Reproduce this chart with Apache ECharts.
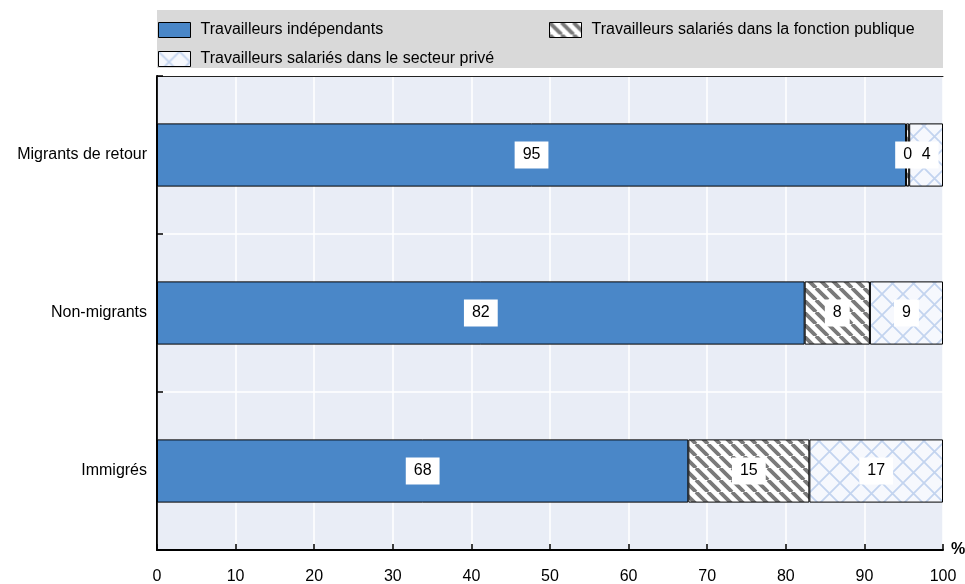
<!DOCTYPE html>
<html>
<head>
<meta charset="utf-8">
<script src="https://cdn.jsdelivr.net/npm/echarts@6/dist/echarts.min.js"></script>
<style>
  html, body { margin: 0; padding: 0; background: #fff; }
  #chart { width: 965px; height: 584px; }
</style>
</head>
<body>
<div id="chart"></div>
<script>
// Groups shown on the vertical axis (top to bottom)
const categories = ['Migrants de retour', 'Non-migrants', 'Immigrés'];

// Shares of employment by status, in %
const independants = [95.3, 82.4, 67.6];
const fonctionPublique = [0.4, 8.3, 15.4];
const secteurPrive = [4.3, 9.3, 17.0];

const seriesNames = [
  'Travailleurs indépendants',
  'Travailleurs salariés dans la fonction publique',
  'Travailleurs salariés dans le secteur privé'
];

const xTicks = { min: 0, max: 100, step: 10 };

const FONT = '"Liberation Sans", Arial, Helvetica, sans-serif';

// Dark diagonal hatching for the public sector
function stripePattern() {
  const s = 12;
  const c = document.createElement('canvas');
  c.width = s; c.height = s;
  const ctx = c.getContext('2d');
  ctx.fillStyle = '#ffffff';
  ctx.fillRect(0, 0, s, s);
  ctx.strokeStyle = '#7a7a7a';
  ctx.lineWidth = 3.8;
  ctx.beginPath();
  for (const i of [-1, 0, 1]) {
    ctx.moveTo(i * s, 0);
    ctx.lineTo(i * s + s, s);
  }
  ctx.stroke();
  return c;
}

// Light blue cross-hatching for the private sector
function crossPattern() {
  const s = 21;
  const c = document.createElement('canvas');
  c.width = s; c.height = s;
  const ctx = c.getContext('2d');
  ctx.fillStyle = '#f6f8fd';
  ctx.fillRect(0, 0, s, s);
  ctx.strokeStyle = '#c3d4ef';
  ctx.lineWidth = 1.8;
  ctx.beginPath();
  for (const i of [-1, 0, 1]) {
    ctx.moveTo(i * s, 0);
    ctx.lineTo(i * s + s, s);
    ctx.moveTo(i * s, s);
    ctx.lineTo(i * s + s, 0);
  }
  ctx.stroke();
  return c;
}

const fills = [
  '#4a87c8',
  { image: stripePattern(), repeat: 'repeat' },
  { image: crossPattern(), repeat: 'repeat' }
];

const values = [independants, fonctionPublique, secteurPrive];

const chart = echarts.init(document.getElementById('chart'), null, { renderer: 'canvas' });

const labelStyle = {
  show: true,
  position: 'inside',
  formatter: p => String(Math.round(p.value)),
  fontFamily: FONT,
  fontSize: 16,
  color: '#000',
  backgroundColor: '#ffffff',
  padding: [6, 8, 5, 8]
};

const series = seriesNames.map((name, k) => ({
  name,
  type: 'bar',
  stack: 'total',
  barWidth: '40%',
  data: values[k],
  itemStyle: { color: fills[k], borderColor: '#000', borderWidth: 1 },
  label: labelStyle,
  emphasis: { disabled: true },
  silent: true
}));

const legendText = { fontFamily: FONT, fontSize: 16, color: '#000', padding: [0, 0, 0, 5] };
const legendCommon = {
  orient: 'vertical',
  top: 17,
  icon: 'rect',
  itemWidth: 32, itemHeight: 15, itemGap: 13,
  selectedMode: false,
  textStyle: legendText,
  itemStyle: { borderColor: '#000', borderWidth: 1 }
};

chart.setOption({
  animation: false,
  graphic: [{
    type: 'rect',
    left: 157, top: 10,
    shape: { width: 786, height: 58 },
    style: { fill: '#d9d9d9' },
    z: -1
  }],
  legend: [
    Object.assign({ data: [seriesNames[0], seriesNames[2]], left: 153 }, legendCommon),
    Object.assign({ data: [seriesNames[1]], left: 544 }, legendCommon)
  ],
  grid: {
    left: 157, right: 22, top: 76, bottom: 34,
    show: true, backgroundColor: '#e9edf6', borderWidth: 0,
    containLabel: false,
    outerBoundsMode: 'none'
  },
  xAxis: [
    {
      type: 'value',
      min: xTicks.min, max: xTicks.max, interval: xTicks.step,
      name: '%',
      nameLocation: 'end',
      nameGap: 8,
      nameTextStyle: { fontFamily: FONT, fontSize: 16, fontWeight: 'bold', color: '#000', padding: [0, 0, 12, 0] },
      axisLine: { show: true, lineStyle: { color: '#000', width: 2 } },
      axisTick: { show: true, inside: true, length: 6, lineStyle: { color: '#000', width: 1.5 } },
      axisLabel: { fontFamily: FONT, fontSize: 16, color: '#000', margin: 19 },
      splitLine: { show: true, lineStyle: { color: '#ffffff', width: 1.5 } }
    },
    {
      type: 'value', position: 'top',
      min: xTicks.min, max: xTicks.max, interval: xTicks.step,
      axisLine: { show: true, lineStyle: { color: '#222', width: 1 } },
      axisTick: { show: false }, axisLabel: { show: false }, splitLine: { show: false }
    }
  ],
  yAxis: [
    {
      type: 'category',
      data: categories,
      inverse: true,
      axisLine: { show: true, lineStyle: { color: '#000', width: 2 } },
      axisTick: { show: true, inside: true, length: 6, lineStyle: { color: '#000', width: 1.5 } },
      axisLabel: { fontFamily: FONT, fontSize: 16, color: '#000', margin: 10 },
      splitLine: { show: true, lineStyle: { color: '#ffffff', width: 1.5 } }
    },
    {
      type: 'category',
      data: categories,
      inverse: true,
      position: 'right',
      axisLine: { show: true, lineStyle: { color: '#222', width: 1 } },
      axisTick: { show: false }, axisLabel: { show: false }, splitLine: { show: false }
    }
  ],
  series
});
</script>
</body>
</html>
